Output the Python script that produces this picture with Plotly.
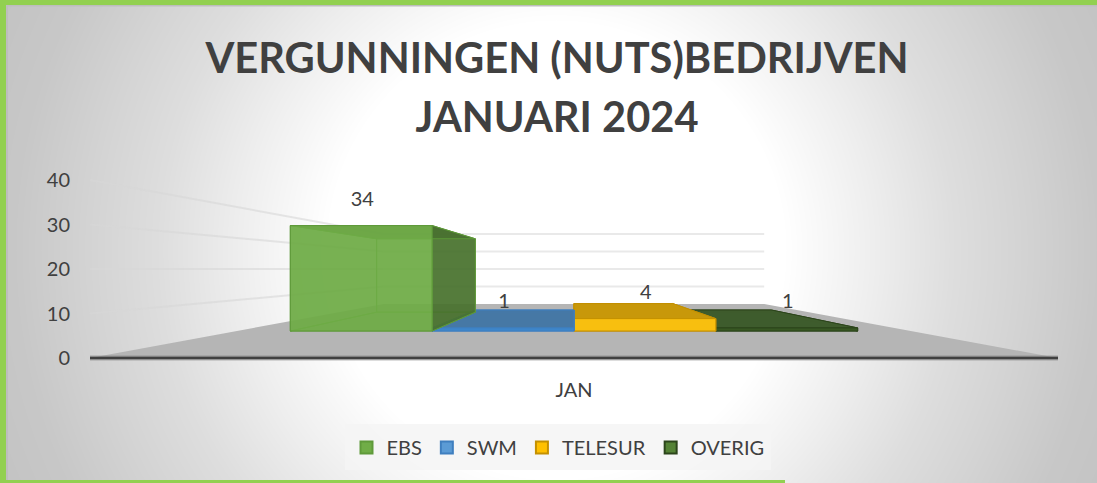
import base64, struct, zlib
import numpy as np
import plotly.graph_objects as go

# ---- data ----
categories = ["JAN"]
series_names = ["EBS", "SWM", "TELESUR", "OVERIG"]
series_values = [34, 1, 4, 1]
y_ticks = [0, 10, 20, 30, 40]

# ---- style ----
colors = ["#70AD47", "#5B9BD5", "#FFC000", "#548235"]
edges = ["#5F9A3A", "#3F7FBF", "#C49000", "#2C451B"]
face_colors = [
    ("rgba(112,173,71,0.86)", "rgba(70,110,45,0.85)", "rgba(95,150,60,0.55)"),
    ("rgba(60,135,205,0.95)", "rgba(70,120,165,0.95)", "rgba(60,110,160,0.8)"),
    ("rgba(250,192,15,0.97)", "rgba(200,152,10,0.97)", "rgba(190,145,10,0.9)"),
    ("rgba(56,87,35,0.95)", "rgba(62,92,45,0.98)", "rgba(50,80,30,0.9)"),
]
draw_order = [3, 2, 1, 0]
FONT = "Lato"
TEXT = "#404040"
W, H = 1097, 483

# ---- perspective of the chart box (axis units: x in px, y in value units) ----
CX = 574.0          # vanishing point x
VY = 20.0           # vanishing point height in value units
FLOOR_HALF = 484.0  # half width of the front edge of the floor
S_BACK = 0.393      # scale at the back wall
BAR_FRONT, BAR_BACK = 0.697, 0.485
BAR_W = 203.5
Y_PX0, PX_PER_UNIT = 358.0, 4.45


def proj(wx, v, s):
    return CX + s * wx, VY + s * (v - VY)


def poly(pts, fill, line=None, lw=1):
    xs, ys = zip(*(pts + pts[:1]))
    return go.Scatter(x=xs, y=ys, mode="lines", fill="toself", fillcolor=fill,
                      line=dict(color=line or "rgba(0,0,0,0)", width=lw),
                      hoverinfo="skip", showlegend=False)


def line(p, q, color, width):
    return go.Scatter(x=[p[0], q[0]], y=[p[1], q[1]], mode="lines",
                      line=dict(color=color, width=width), hoverinfo="skip", showlegend=False)


fig = go.Figure()

# floor
L, R = -FLOOR_HALF, FLOOR_HALF
fig.add_trace(poly([proj(L, 0, 1), proj(R, 0, 1), proj(R, 0, S_BACK), proj(L, 0, S_BACK)], "#B5B5B5"))

# wall grid lines
for v in y_ticks[1:]:
    fig.add_trace(line(proj(L, v, 1), proj(L, v, S_BACK), "rgba(215,215,215,0.6)", 2))
    fig.add_trace(line(proj(L, v, S_BACK), proj(R, v, S_BACK), "#E9E9E9", 2))

# front axis line
fig.add_trace(line(proj(L, 0, 1), proj(R, 0, 1), "rgba(120,120,120,0.5)", 5))
fig.add_trace(line(proj(L, 0, 1), proj(R, 0, 1), "#404040", 2.5))

# bars
n = len(series_values)
x0 = -BAR_W * n / 2
for i in draw_order:
    v = series_values[i]
    a, b = x0 + i * BAR_W, x0 + (i + 1) * BAR_W
    front, top, side = face_colors[i]
    e = edges[i]
    F, K = BAR_FRONT, BAR_BACK
    fig.add_trace(poly([proj(a, 0, K), proj(b, 0, K), proj(b, v, K), proj(a, v, K)], side, e))
    fig.add_trace(poly([proj(a, 0, F), proj(a, 0, K), proj(a, v, K), proj(a, v, F)], side, e))
    fig.add_trace(poly([proj(a, 0, F), proj(b, 0, F), proj(b, 0, K), proj(a, 0, K)], side, e))
    fig.add_trace(poly([proj(b, 0, F), proj(b, 0, K), proj(b, v, K), proj(b, v, F)], top, e))
    fig.add_trace(poly([proj(a, v, F), proj(b, v, F), proj(b, v, K), proj(a, v, K)], top, e))
    fig.add_trace(poly([proj(a, 0, F), proj(b, 0, F), proj(b, v, F), proj(a, v, F)], front, e))

# value labels
label_lift = 25 / PX_PER_UNIT
lx = [proj(x0 + (i + 0.5) * BAR_W, v, BAR_FRONT)[0] + 1 for i, v in enumerate(series_values)]
ly = [proj(0, v, BAR_FRONT)[1] + label_lift for v in series_values]
fig.add_trace(go.Scatter(x=lx, y=ly, mode="text", text=[str(v) for v in series_values],
                         textposition="middle center", textfont=dict(family=FONT, size=20, color=TEXT),
                         hoverinfo="skip", showlegend=False))

# legend entries
for name, c, e in zip(series_names, colors, edges):
    fig.add_trace(go.Bar(x=[None], y=[None], name=name,
                         marker=dict(color=c, opacity=0.9, line=dict(color=e, width=2))))


# ---- background gradient as an inline PNG ----
def gradient_png():
    yy, xx = np.mgrid[0:H, 0:W]
    r = np.hypot(xx - 556.0, yy - 250.0)
    g = np.interp(r, [230, 319, 398, 465, 540, 597, 660], [255, 238, 222, 212, 200, 196, 188]).astype(np.uint8)
    raw = b"".join(b"\x00" + g[y].tobytes() for y in range(H))

    def chunk(tag, data):
        return struct.pack(">I", len(data)) + tag + data + struct.pack(">I", zlib.crc32(tag + data))

    png = b"\x89PNG\r\n\x1a\n" + chunk(b"IHDR", struct.pack(">IIBBBBB", W, H, 8, 0, 0, 0, 0))
    png += chunk(b"IDAT", zlib.compress(raw)) + chunk(b"IEND", b"")
    return "data:image/png;base64," + base64.b64encode(png).decode()


GREEN = "#92D050"
y_low = -(H - Y_PX0) / PX_PER_UNIT
y_high = Y_PX0 / PX_PER_UNIT


def rect(x0, y0, x1, y1, color, layer="above"):
    return dict(type="rect", xref="x", yref="paper", x0=x0, x1=x1, y0=1 - y0 / H, y1=1 - y1 / H,
                fillcolor=color, line_width=0, layer=layer)


title_span = '<span style="font-size:41.6px">%s</span>'
fig.update_layout(
    width=W, height=H, margin=dict(l=0, r=0, t=0, b=0), autosize=False,
    paper_bgcolor="white", plot_bgcolor="rgba(0,0,0,0)",
    images=[dict(source=gradient_png(), xref="paper", yref="paper", x=0, y=1, sizex=1, sizey=1,
                 sizing="stretch", xanchor="left", yanchor="top", layer="below")],
    title=dict(text=title_span % "VERGUNNINGEN (NUTS)BEDRIJVEN" + "<br>" + title_span % "JANUARI 2024",
               x=557 / W, xanchor="center", y=1 - 73 / H, yanchor="top",
               font=dict(family=FONT, size=45, color=TEXT, weight="bold")),
    xaxis=dict(range=[0, W], showgrid=False, zeroline=False, showline=False, ticks="",
               tickmode="array", tickvals=[CX], ticktext=categories, anchor="free",
               position=1 - 376 / H, tickfont=dict(family=FONT, size=20, color=TEXT), fixedrange=True),
    yaxis=dict(range=[y_low, y_high], showgrid=False, zeroline=False, showline=False, ticks="",
               tickmode="array", tickvals=y_ticks, anchor="free", position=70 / W,
               tickfont=dict(family=FONT, size=20, color=TEXT), fixedrange=True),
    legend=dict(orientation="h", x=558 / W, xanchor="center", y=1 - 428 / H, yanchor="top",
                bgcolor="rgba(0,0,0,0)", font=dict(family=FONT, size=20, color=TEXT),
                itemclick=False, itemdoubleclick=False),
    shapes=[rect(345, 424, 771, 470, "rgba(244,244,244,0.85)", "below"),
            rect(0, 5, W, 6.5, "#BDBDBD"), rect(6, 0, 8, H, "#BDBDBD"),
            rect(0, 0, W, 5, GREEN), rect(0, 0, 6, H, GREEN), rect(0, 480, 785, H, GREEN)],
)

fig.write_html("out.html", config=dict(displayModeBar=False),
               post_script="document.body.style.margin='0';document.body.style.overflow='hidden';")
